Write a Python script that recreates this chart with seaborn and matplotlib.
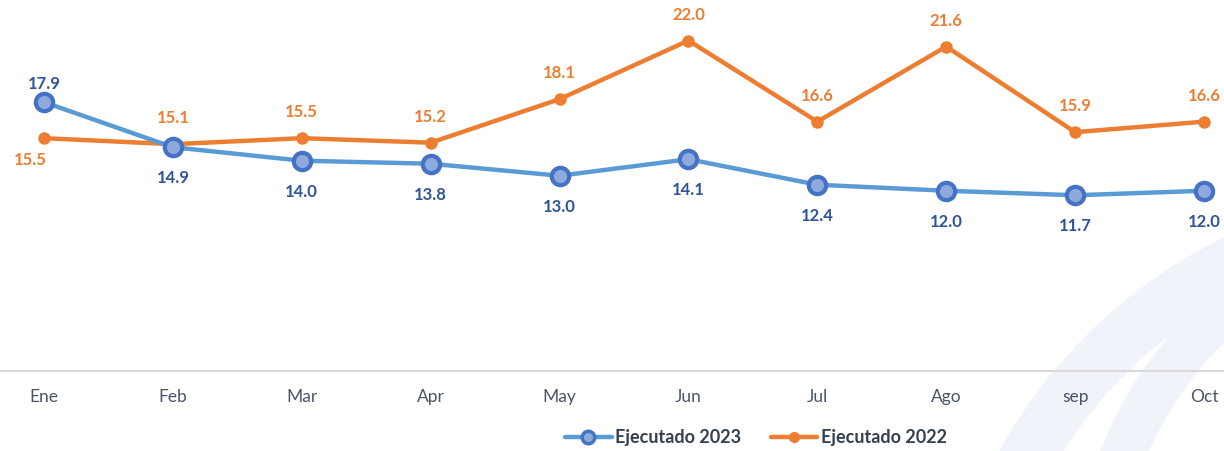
import matplotlib
matplotlib.use("Agg")
import matplotlib.pyplot as plt
from matplotlib.patches import Wedge
import seaborn as sns

months = ["Ene", "Feb", "Mar", "Apr", "May", "Jun", "Jul", "Ago", "sep", "Oct"]
ejecutado_2023 = [17.9, 14.9, 14.0, 13.8, 13.0, 14.1, 12.4, 12.0, 11.7, 12.0]
ejecutado_2022 = [15.5, 15.1, 15.5, 15.2, 18.1, 22.0, 16.6, 21.6, 15.9, 16.6]

sns.set_theme(style="white")
plt.rcParams["font.family"] = ["Lato", "DejaVu Sans"]

BLUE_LINE = "#5B9BD5"
BLUE_EDGE = "#4472C4"
BLUE_FACE = "#8EA9DB"
BLUE_TEXT = "#2F5597"
ORANGE = "#ED7D31"
SWOOSH = "#F1F3FA"

W, H = 1224, 451
fig = plt.figure(figsize=(W / 100, H / 100), dpi=100)
fig.patch.set_facecolor("white")

# background layer in pixel units for the decorative swooshes
bg = fig.add_axes([0, 0, 1, 1], zorder=-1)
bg.set_xlim(0, W)
bg.set_ylim(H, 0)
bg.axis("off")
bg.add_patch(Wedge((1450, 700), 515, 0, 360, width=55, facecolor=SWOOSH, edgecolor="none"))
bg.add_patch(Wedge((1480, 600), 408, 0, 360, width=45, facecolor=SWOOSH, edgecolor="none"))
bg.add_patch(Wedge((1420, 640), 240, 0, 360, width=30, facecolor=SWOOSH, edgecolor="none"))

ax = fig.add_axes([0, 1 - 371 / H, 1, 371 / H])
ax.set_facecolor("none")

x = list(range(len(months)))

sns.lineplot(x=x, y=ejecutado_2022, ax=ax, color=ORANGE, linewidth=3.2,
             marker="o", markersize=9, markerfacecolor=ORANGE,
             markeredgecolor=ORANGE, markeredgewidth=0, label="Ejecutado 2022",
             zorder=3)
sns.lineplot(x=x, y=ejecutado_2023, ax=ax, color=BLUE_LINE, linewidth=3.2,
             marker="o", markersize=12.5, markerfacecolor=BLUE_FACE,
             markeredgecolor=BLUE_EDGE, markeredgewidth=3, label="Ejecutado 2023",
             zorder=4)

for i, v in enumerate(ejecutado_2023):
    dy = 18 if i == 0 else -31
    ax.annotate(f"{v:.1f}", (i, v), xytext=(0, dy), textcoords="offset pixels",
                ha="center", va="center", fontsize=12, fontweight="bold",
                color=BLUE_TEXT, annotation_clip=False)
for i, v in enumerate(ejecutado_2022):
    if i == 0:
        dx, dy = -14, -22
    else:
        dx, dy = 0, 26
    ax.annotate(f"{v:.1f}", (i, v), xytext=(dx, dy), textcoords="offset pixels",
                ha="center", va="center", fontsize=12, fontweight="bold",
                color=ORANGE, annotation_clip=False)

ax.set_xlim(-44 / 128.9, 9 + 20 / 128.9)
ax.set_ylim(0, 24.7)
ax.set_xticks(x)
ax.set_xticklabels(months)
ax.set_yticks([])
ax.tick_params(axis="x", length=0, pad=13, labelsize=12.5, labelcolor="#4A5468")
for s in ["top", "right", "left"]:
    ax.spines[s].set_visible(False)
ax.spines["bottom"].set_color("#D9D9D9")
ax.spines["bottom"].set_linewidth(1.5)
ax.set_xlabel("")
ax.set_ylabel("")

h, l = ax.get_legend_handles_labels()
order = [l.index("Ejecutado 2023"), l.index("Ejecutado 2022")]
leg = fig.legend([h[k] for k in order], [l[k] for k in order],
                 loc="center", bbox_to_anchor=(756 / W, 1 - 438 / H), ncol=2,
                 frameon=False, handlelength=2.6, columnspacing=1.6,
                 handletextpad=0.2,
                 prop={"family": ["Lato", "DejaVu Sans"], "weight": "bold", "size": 13})
for t in leg.get_texts():
    t.set_color("#333F50")
lh = leg.legend_handles
lh[0].set_markersize(9)
lh[0].set_markeredgewidth(2.5)
lh[1].set_markersize(8)
if ax.get_legend():
    ax.get_legend().remove()

fig.savefig("out.png", dpi=100)
